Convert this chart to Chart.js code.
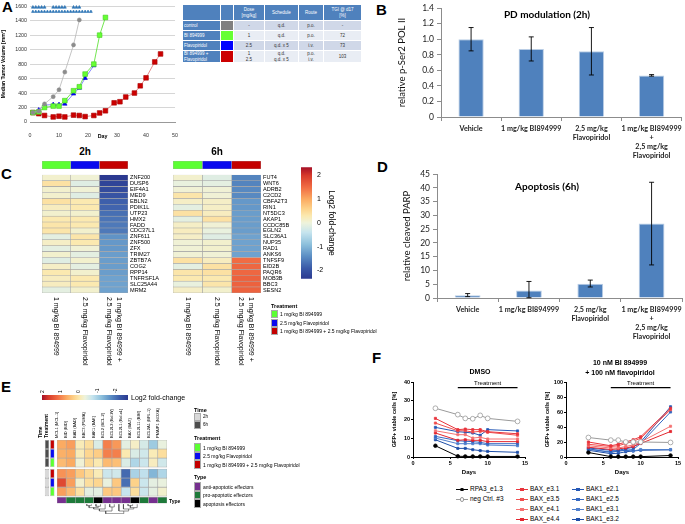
<!DOCTYPE html>
<html>
<head>
<meta charset="utf-8">
<script src="https://cdn.jsdelivr.net/npm/chart.js@4.4.1/dist/chart.umd.min.js"></script>
<style>
  body { margin: 0; background: #fff; }
  #page { position: relative; width: 685px; height: 524px; overflow: hidden; font-family: "Liberation Sans", Arial, sans-serif; color: #000; }
  #page canvas { position: absolute; }
  .t { position: absolute; white-space: pre; line-height: 1; }
  .c { transform: translateX(-50%); text-align: center; }
  .letter { font-weight: bold; font-size: 15px; }
  .sw { position: absolute; box-sizing: border-box; border: 0.5px solid #aaa; }
  #tgi { position: absolute; left: 182px; top: 4px; border-collapse: collapse; table-layout: fixed; width: 179px; font-size: 4.5px; }
  #tgi td { border: 1px solid #fff; padding: 0; text-align: center; color: #333; line-height: 1.15; white-space: pre; }
</style>
</head>
<body>
<div id="page"></div>
<script>
// ---------- A: tumour growth ----------
const dayCtrl = [1, 3, 5, 8, 10, 12, 15, 17];
const volCtrl = [130, 150, 250, 350, 445, 690, 1065, 1410];
const dayBI = [1, 3, 5, 8, 10, 12, 15, 17, 19, 22, 24, 26];
const volBI = [130, 140, 200, 220, 220, 295, 432, 487, 662, 800, 1200, 1444];
const dayFlavo = [1, 3, 5, 8, 10, 12, 15, 17, 19, 22];
const volFlavo = [130, 165, 235, 240, 240, 250, 390, 470, 605, 780];
const dayCombo = [1, 3, 5, 8, 10, 12, 15, 17, 19, 22, 24, 26, 29, 31, 33, 36, 38, 40, 43, 45];
const volCombo = [130, 115, 90, 70, 80, 70, 95, 90, 75, 90, 125, 155, 265, 280, 345, 400, 500, 610, 830, 940];
const doseDaysUpper = [1, 2, 3, 4, 5, 8, 9, 10, 11, 12, 15, 16, 17];
const doseDaysLower = [1, 2, 3, 4, 5, 6, 7, 8, 9, 10, 11, 12, 13, 14, 15, 16, 17, 18, 19, 20, 21];
const doseLevelUpper = 1585;
const doseLevelLower = 1525;

const groupNames = ['control', 'BI 894999', 'Flavopiridol', 'BI 894999 +\nFlavopiridol'];
const groupColors = ['#808080', '#66ff33', '#0000ff', '#cc0000'];
const groupDose = ['-', '1', '2.5', '1\n2.5'];
const groupSchedule = ['q.d.', 'q.d.', 'q.d. x 5', 'q.d.\nq.d. x 5'];
const groupRoute = ['p.o.', 'p.o.', 'i.v.', 'p.o.\ni.v.'];
const groupTGI = ['-', '72', '73', '103'];
const tableHead = ['', '', 'Dose\n[mg/kg]', 'Schedule', 'Route', 'TGI @ d17\n[%]'];

// ---------- B / D: bar panels ----------
const treatGroups = ['Vehicle', '1 mg/kg BI894999', ['2,5 mg/kg', 'Flavopiridol'], ['1 mg/kg BI894999', '+', '2,5 mg/kg', 'Flavopiridol']];
const polMean = [1.0, 0.875, 0.845, 0.535];
const polLow = [0.85, 0.72, 0.54, 0.525];
const polHigh = [1.15, 1.03, 1.15, 0.545];
const parpMean = [1.0, 2.7, 5.2, 27];
const parpLow = [0.5, 0.1, 4.0, 12];
const parpHigh = [1.6, 6.0, 6.5, 42];

// ---------- C: heatmaps ----------
const genes2h = ['ZNF200', 'DUSP6', 'EIF4A1', 'MED9', 'EBLN2', 'PDIK1L', 'UTP23', 'HMX2', 'FADD', 'CDC37L1', 'ZNF611', 'ZNF500', 'ZFX', 'TRIM27', 'ZBTB7A', 'COG2', 'RPP14', 'TNFRSF1A', 'SLC25A44', 'MRM2'];
const fc2hBI = [0.1, 0.4, 0.1, 0.1, 0.4, 0.2, 0.1, 0.3, 0.35, 0.35, -0.1, 0.15, -0.1, 0.1, -0.15, 0.15, 0.3, 0.2, 0.2, -0.1];
const fc2hFlavo = [0.05, -0.15, 0.05, -0.15, 0.3, 0.3, 0.1, 0.3, 0.3, 0.1, 0.35, 0.3, 0.05, -0.1, 0.1, -0.1, 0.1, 0.3, 0.3, 0.1];
const fc2hCombo = [-2.35, -2.2, -2.1, -2.0, -1.85, -1.8, -1.7, -1.65, -1.6, -1.6, -1.35, -1.3, -1.3, -1.25, -1.25, -1.25, -1.25, -1.2, -1.2, -1.2];
const genes6h = ['FUT4', 'WNT6', 'ADRB2', 'C2CD2', 'CBFA2T3', 'RIN1', 'NT5DC3', 'AKAP1', 'CCDC85B', 'EGLN2', 'SLC36A1', 'NUP35', 'RAD1', 'ANKS6', 'TNFSF9', 'EID2B', 'PAQR6', 'MOB3B', 'BBC3', 'SESN2'];
const fc6hBI = [0.1, -0.05, 0.05, 0.35, 0.15, -0.1, 0.4, -0.1, 0.15, 0.2, 0.15, 0.05, 0.05, 0.05, 0.4, -0.1, 0.35, 0.3, -0.05, 0.15];
const fc6hFlavo = [-0.15, -0.1, 0.05, 0.05, 0.15, 0.15, 0.2, 0.4, 0.05, -0.05, -0.15, 0.1, 0.1, 0.05, 0.2, 0.4, 0.4, 0.3, 0.35, 0.1];
const fc6hCombo = [-1.5, -1.5, -1.45, -1.45, -1.3, -1.3, -1.25, -1.25, -1.25, -1.25, -1.2, -1.2, -1.2, -1.2, 1.5, 1.55, 1.55, 1.6, 1.6, 1.6];
const treatKeys = ['bi', 'flavo', 'combo'];
const treatLabels = ['1 mg/kg BI 894999', '2.5 mg/kg Flavopiridol', '1 mg/kg BI 894999 + 2.5 mg/kg Flavopiridol'];
const colLabelsC = ['1 mg/kg BI 894999', '2.5 mg/kg Flavopiridol', ['1 mg/kg BI 894999 +', '2.5 mg/kg Flavopiridol']];
const fcMin = -2.35, fcMax = 2.35;

// ---------- E: apoptosis regulators ----------
const eGenes = ['MCL1 (MCL-1)', 'BID (BID)', 'BAD (BAD)', 'BBC3 (PUMA)', 'BAK1 (BAK)', 'BCL2 (BCL-2)', 'BCL2L2 (Bcl-W)', 'BCL2L1 (Bcl-xL)', 'BAX (BAX)', 'BCL2L11 (BIM)', 'BCL2A1 (BFL-1)', 'PMAIP1 (NOXA)'];
const e6hCombo = [1.0, 1.1, 0.25, 0.45, -0.2, 1.35, 1.15, -0.1, 0.15, -0.25, -0.75, -0.05];
const e6hFlavo = [0.95, 1.0, 0.25, 0.55, 0.65, 1.35, 1.35, 0.3, -0.2, -0.3, 0.25, 0.45];
const e6hBI = [0.85, 1.0, 0.05, 0.5, 0.3, 0.85, 0.8, -0.2, -0.6, -0.35, 0.2, -0.3];
const e2hCombo = [1.2, 1.1, 0.7, 0.5, 0.25, -0.35, -0.3, -1.75, -0.65, -0.45, -1.0, -0.6];
const e2hFlavo = [1.85, 1.1, 0.1, 0.45, 0.55, -0.05, 0.7, -1.7, 0.6, -0.35, -0.1, -0.05];
const e2hBI = [1.1, 0.85, 0.4, -0.1, -0.1, 0.7, 0.7, -0.4, 0.45, -0.35, -0.1, 0.1];
const eTime = ['6h', '6h', '6h', '2h', '2h', '2h'];
const eTreat = ['combo', 'flavo', 'bi', 'combo', 'flavo', 'bi'];
const eTypes = ['anti', 'pro', 'pro', 'pro', 'eff', 'anti', 'anti', 'anti', 'eff', 'pro', 'anti', 'pro'];
const typeLabels = ['anti-apoptotic effectors', 'pro-apoptotic effectors', 'apoptosis effectors'];
// hclust-style merges: negative = leaf, positive = earlier merge
const eMerge = [[-1, -2], [-3, -4], [1, 2], [3, -5], [-6, -7], [4, 5], [-10, -11], [7, -12], [-9, 8], [-8, 9], [6, 10]];
const eMergeHeight = [1, 1.5, 2.5, 3.5, 2, 5, 1, 2.5, 3.5, 5, 7];

// ---------- F: CRISPR competition ----------
const fDays = [3, 6, 7, 8, 9, 10, 14];
const fLabels = ['RPA3_e1.3', 'neg Ctrl. #3', 'BAX_e3.1', 'BAX_e3.5', 'BAX_e4.1', 'BAX_e4.4', 'BAK1_e2.1', 'BAK1_e2.5', 'BAK1_e3.1', 'BAK1_e3.2'];
const dmsoRPA3 = [6, 0.4, 0.3, 0.3, 0.3, 0.3, 0.3];
const dmsoNeg = [26, 22.6, 20.6, 20.4, 22.2, 20.6, 19];
const dmsoBAXe31 = [20.6, 14.6, 14.9, 14.6, 14.6, 13.5, 12.4];
const dmsoBAXe35 = [18.1, 14, 14, 13.3, 13.7, 13.2, 11.6];
const dmsoBAXe41 = [14, 11.9, 11.9, 10.1, 10.5, 9.6, 9.6];
const dmsoBAXe44 = [12.8, 8.9, 9.2, 8.9, 8.9, 8.2, 8.2];
const dmsoBAKe21 = [15.8, 13.5, 13.2, 12.8, 11.6, 14.6, 13.9];
const dmsoBAKe25 = [11, 8.7, 8.4, 8.2, 7.8, 7.1, 7.1];
const dmsoBAKe31 = [10.1, 7.1, 7.1, 7.1, 7.1, 6.4, 6.0];
const dmsoBAKe32 = [9.2, 4.6, 4.6, 3.9, 3.4, 3.0, 2.5];
const comboRPA3 = [6, 0.5, 0.5, 0.5, 0.5, 0.5, 2];
const comboNeg = [26, 22.5, 22.5, 20, 20, 20, 19.4];
const comboBAXe31 = [20, 15, 17, 20, 23, 27, 65];
const comboBAXe35 = [17, 14, 15, 18, 21, 25, 63];
const comboBAXe41 = [15, 12, 12, 14, 16, 20, 41];
const comboBAXe44 = [13, 10, 11, 12, 14, 18, 34];
const comboBAKe21 = [12, 9, 9, 11, 13, 20, 67];
const comboBAKe25 = [11, 6, 8, 9, 10, 18, 60];
const comboBAKe31 = [10, 7, 8, 9, 8, 10, 10];
const comboBAKe32 = [9, 4.5, 5, 7, 8, 9, 9.5];
const treatStart = 6, treatEnd = 14;
const treatLevelDmso = 37, treatLevelCombo = 92.5;

// ---------- styles ----------
const treatColor = { bi: '#5cff33', flavo: '#0a0aee', combo: '#c40000' };
const timeColor = { '2h': '#d9d9d9', '6h': '#4d4d4d' };
const typeColor = { anti: '#76308f', pro: '#1e7a3a', eff: '#000000' };
const fColors = ['#000000', '#9a9a9a', '#e8343c', '#f04e4e', '#f47272', '#e3262f', '#2457b5', '#3468c2', '#4f7fcd', '#1d4ea8'];
const fShapes = ['circle', 'circle', 'rect', 'rect', 'rect', 'rect', 'rect', 'rect', 'rect', 'rect'];
const fcStops = [[-2.35, '#2b3990'], [-1.9, '#3a5aa8'], [-1.4, '#5b8ec4'], [-0.9, '#8dc0dc'], [-0.4, '#c6e4ee'], [0, '#eef3dc'], [0.3, '#fbe9b0'], [0.6, '#fdd28a'], [1.0, '#fbab62'], [1.5, '#f16c43'], [2.0, '#d73a2b'], [2.35, '#a50f26']];

Chart.defaults.font.family = "'Liberation Sans', Arial, sans-serif";
Chart.defaults.color = '#000';

const page = document.getElementById('page');
const base = { responsive: false, animation: false, events: [] };
const noLegend = { legend: { display: false }, tooltip: { enabled: false } };
const fit = n => s => { if (s.isHorizontal()) s.height = n; else s.width = n; };
const intTicks = s => { s.ticks = s.ticks.filter(t => Number.isInteger(t.value)); };
const pts = (xs, ys) => xs.map((x, i) => ({ x, y: ys[i] }));

function place(left, top, w, h) {
  const c = document.createElement('canvas');
  c.width = w; c.height = h;
  c.style.left = left + 'px'; c.style.top = top + 'px';
  page.appendChild(c);
  return c;
}
function text(x, y, s, css, cls) {
  const d = document.createElement('div');
  d.className = 't ' + (cls || '');
  d.style.cssText = `left:${x}px;top:${y}px;` + (css || '');
  d.textContent = s;
  page.appendChild(d);
  return d;
}
function swatch(x, y, w, h, color) {
  const d = document.createElement('div');
  d.className = 'sw';
  d.style.cssText = `left:${x}px;top:${y}px;width:${w}px;height:${h}px;background:${color};`;
  page.appendChild(d);
}
function hex(c) { return [1, 3, 5].map(i => parseInt(c.slice(i, i + 2), 16)); }
function fcColor(v) {
  if (v <= fcStops[0][0]) return fcStops[0][1];
  for (let i = 1; i < fcStops.length; i++) {
    if (v <= fcStops[i][0]) {
      const [v0, c0] = fcStops[i - 1], [v1, c1] = fcStops[i];
      const f = (v - v0) / (v1 - v0), a = hex(c0), b = hex(c1);
      return 'rgb(' + a.map((x, k) => Math.round(x + (b[k] - x) * f)).join(',') + ')';
    }
  }
  return fcStops[fcStops.length - 1][1];
}
function scaleGradient(chart, id) {
  const s = chart.scales[id];
  if (!s) return '#ccc';
  const p0 = s.getPixelForValue(fcMin), p1 = s.getPixelForValue(fcMax);
  if (!isFinite(p0) || !isFinite(p1)) return '#ccc';
  const g = s.isHorizontal() ? chart.ctx.createLinearGradient(p0, 0, p1, 0) : chart.ctx.createLinearGradient(0, p0, 0, p1);
  fcStops.forEach(([v, c]) => g.addColorStop((v - fcMin) / (fcMax - fcMin), c));
  return g;
}

// plugins
function errorBars(low, high) {
  return {
    id: 'errorBars',
    afterDatasetsDraw(chart) {
      const { ctx } = chart, y = chart.scales.y;
      ctx.save();
      ctx.strokeStyle = '#000'; ctx.lineWidth = 0.9;
      chart.getDatasetMeta(0).data.forEach((bar, i) => {
        const a = y.getPixelForValue(low[i]), b = y.getPixelForValue(high[i]);
        ctx.beginPath();
        ctx.moveTo(bar.x, a); ctx.lineTo(bar.x, b);
        ctx.moveTo(bar.x - 2.5, a); ctx.lineTo(bar.x + 2.5, a);
        ctx.moveTo(bar.x - 2.5, b); ctx.lineTo(bar.x + 2.5, b);
        ctx.stroke();
      });
      ctx.restore();
    }
  };
}
function columnLabels(labels, font, lineH, gap) {
  return {
    id: 'columnLabels',
    afterDraw(chart) {
      const { ctx, chartArea } = chart, x = chart.scales.x;
      ctx.save();
      ctx.font = font; ctx.fillStyle = '#000';
      ctx.textAlign = 'left'; ctx.textBaseline = 'middle';
      labels.forEach((lab, i) => {
        const lines = [].concat(lab), cx = x.getPixelForValue(i + 0.5);
        lines.forEach((t, k) => {
          const off = (k - (lines.length - 1) / 2) * lineH;
          ctx.save();
          ctx.translate(cx - off, chartArea.bottom + gap);
          ctx.rotate(Math.PI / 2);
          ctx.fillText(t, 0, 0);
          ctx.restore();
        });
      });
      ctx.restore();
    }
  };
}
function treatmentLabel(level) {
  return {
    id: 'treatmentLabel',
    afterDraw(chart) {
      const { ctx } = chart, x = chart.scales.x, y = chart.scales.y;
      ctx.save();
      ctx.font = "6px 'Liberation Sans', Arial"; ctx.fillStyle = '#000';
      ctx.textAlign = 'center'; ctx.textBaseline = 'bottom';
      ctx.fillText('Treatment', x.getPixelForValue((treatStart + treatEnd) / 2), y.getPixelForValue(level) - 1.5);
      ctx.restore();
    }
  };
}

// ---------- panel letters ----------
text(2, -1, 'A', '', 'letter');
text(376, 2, 'B', '', 'letter');
text(1, 166, 'C', '', 'letter');
text(377, 159, 'D', '', 'letter');
text(1, 379, 'E', '', 'letter');
text(372, 350, 'F', '', 'letter');

// ---------- A ----------
const lineDs = (data, line, fill, edge, shape, r) => ({ data, borderColor: line, backgroundColor: fill, pointBorderColor: edge, pointBorderWidth: 0.6, pointStyle: shape, pointRadius: r, borderWidth: 0.8, clip: false });
new Chart(place(0, 0, 180, 145), {
  type: 'line',
  data: { datasets: [
    lineDs(pts(dayCtrl, volCtrl), '#b5b5b5', '#8c8c8c', '#8c8c8c', 'circle', 2),
    lineDs(pts(dayBI, volBI), '#4fe024', '#66ff33', '#44cc22', 'rect', 3.3),
    lineDs(pts(dayFlavo, volFlavo), '#6a6aff', '#0000ff', '#0000cc', 'triangle', 2.6),
    lineDs(pts(dayCombo, volCombo), '#e07070', '#cc0000', '#aa0000', 'rect', 3.3),
    { ...lineDs(doseDaysUpper.map(x => ({ x, y: doseLevelUpper })), '#2e75b6', '#2e75b6', '#2e75b6', 'triangle', 1.8), showLine: false },
    { ...lineDs(doseDaysLower.map(x => ({ x, y: doseLevelLower })), '#2e75b6', '#2e75b6', '#2e75b6', 'triangle', 1.6), showLine: false }
  ] },
  options: { ...base, layout: { padding: { top: 6, right: 4 } }, plugins: noLegend,
    scales: {
      x: { type: 'linear', min: 0, max: 50, ticks: { stepSize: 10, font: { size: 5.3 }, padding: 2, color: '#333' },
           grid: { display: false }, border: { color: '#999' },
           title: { display: true, text: 'Day', font: { size: 5.3, weight: 'bold' }, padding: { top: 0, bottom: 5 } }, afterFit: fit(23) },
      y: { min: 0, max: 1600, ticks: { stepSize: 200, font: { size: 5.3 }, padding: 3, color: '#333', callback: v => String(v) },
           grid: { color: '#d6d6d6', drawTicks: false }, border: { display: false },
           title: { display: true, text: 'Median Tumor Volume [mm³]', font: { size: 5, weight: 'bold' }, padding: { top: 1, bottom: 0 } }, afterFit: fit(30) }
    } }
});

// table
(function () {
  const tbl = document.createElement('table');
  tbl.id = 'tgi';
  const widths = [38, 13, 31, 34, 25, 38];
  const cg = document.createElement('colgroup');
  widths.forEach(w => { const c = document.createElement('col'); c.style.width = w + 'px'; cg.appendChild(c); });
  tbl.appendChild(cg);
  const addRow = (cells, h, bg, style) => {
    const tr = document.createElement('tr');
    tr.style.height = h + 'px';
    cells.forEach((s, i) => {
      const td = document.createElement('td');
      td.textContent = s;
      td.style.background = bg[i];
      if (style[i]) td.style.cssText += style[i];
      tr.appendChild(td);
    });
    tbl.appendChild(tr);
  };
  const head = '#4f81bd';
  addRow(tableHead, 16, tableHead.map(() => head), tableHead.map(() => 'color:#fff;'));
  const heights = [10, 10, 10, 12];
  groupNames.forEach((g, i) => {
    const body = i % 2 ? '#e9edf4' : '#d0d8e8';
    addRow([g, '', groupDose[i], groupSchedule[i], groupRoute[i], groupTGI[i]], heights[i],
      [head, groupColors[i], body, body, body, body],
      ['color:#fff;text-align:left;padding-left:1px;', '', '', '', '', '']);
  });
  page.appendChild(tbl);
})();

// ---------- B & D ----------
function barPanel(canvas, means, low, high, yMax, yStep, yTitle, g) {
  return new Chart(canvas, {
    type: 'bar',
    data: { labels: treatGroups, datasets: [{ data: means, backgroundColor: '#4f81bd', borderColor: '#b9cde5', borderWidth: 1, barPercentage: 0.42, categoryPercentage: 1 }] },
    options: { ...base, layout: { padding: g.pad }, plugins: noLegend,
      scales: {
        x: { grid: { drawOnChartArea: false, tickLength: 4, color: '#8c8c8c' }, border: { color: '#8c8c8c' },
             ticks: { font: { family: 'Lato', weight: 'bold', size: 7.2, lineHeight: 1.25 }, color: '#222', padding: 3, maxRotation: 0, autoSkip: false },
             afterFit: fit(g.xh) },
        y: { min: 0, max: yMax, ticks: { stepSize: yStep, font: { family: 'Lato', size: 8.5 }, color: '#222', padding: 3 },
             grid: { drawOnChartArea: false, tickLength: 4, color: '#8c8c8c' }, border: { color: '#8c8c8c' },
             title: { display: true, text: yTitle, font: { family: 'Lato', size: 9.5 }, color: '#111', padding: { top: g.tp, bottom: 0 } },
             afterFit: fit(g.yw) }
      } },
    plugins: [errorBars(low, high)]
  });
}
barPanel(place(372, 0, 313, 162), polMean, polLow, polHigh, 1.4, 0.2, 'relative p-Ser2 POL II', { pad: { top: 5, right: 2 }, yw: 69, xh: 45, tp: 24 });
barPanel(place(372, 163, 313, 185), parpMean, parpLow, parpHigh, 45, 5, 'relative cleaved PARP', { pad: { top: 11, right: 2 }, yw: 65, xh: 50, tp: 29 });
text(547, 8, 'PD modulation (2h)', "font:bold 10px Lato;", 'c');
text(547, 180, 'Apoptosis (6h)', "font:bold 10px Lato;", 'c');

// ---------- C ----------
function cellChart(canvas, rowLabels, columns, colorOf, o) {
  const datasets = columns.map((vals, c) => ({
    data: rowLabels.map(() => [c, c + 1]),
    backgroundColor: vals.map(colorOf),
    borderColor: '#a8a8a8', borderWidth: 0.6, borderSkipped: false,
    grouped: false, barPercentage: 1, categoryPercentage: 1
  }));
  return new Chart(canvas, {
    type: 'bar',
    data: { labels: rowLabels, datasets },
    options: { ...base, indexAxis: 'y', layout: { padding: o.pad || 0 }, plugins: noLegend,
      scales: {
        x: { type: 'linear', min: 0, max: columns.length, display: false },
        y: { position: 'right', display: !!o.yw, grid: { display: false, drawTicks: false }, border: { display: false },
             ticks: { font: { size: 5.6, lineHeight: 1 }, padding: 2, autoSkip: false, color: '#000' }, afterFit: fit(o.yw || 0) }
      } },
    plugins: o.colLabels ? [columnLabels(o.colLabels, "7px 'Liberation Sans', Arial", 10, 4)] : []
  });
}
cellChart(place(42, 161, 86, 8), [''], treatKeys.map(k => [k]), k => treatColor[k], {});
cellChart(place(173, 161, 88, 8), [''], treatKeys.map(k => [k]), k => treatColor[k], {});
cellChart(place(30, 170, 140, 212), genes2h, [fc2hBI, fc2hFlavo, fc2hCombo], fcColor,
  { pad: { left: 12, top: 2, right: 2, bottom: 89 }, yw: 40, colLabels: colLabelsC });
cellChart(place(161, 170, 140, 212), genes6h, [fc6hBI, fc6hFlavo, fc6hCombo], fcColor,
  { pad: { left: 12, top: 2, right: 2, bottom: 89 }, yw: 38, colLabels: colLabelsC });
text(85, 147, '2h', 'font-weight:bold;font-size:10px;', 'c');
text(217, 147, '6h', 'font-weight:bold;font-size:10px;', 'c');

// colour key (vertical)
new Chart(place(295, 158, 42, 130), {
  type: 'bar',
  data: { labels: [''], datasets: [{ data: [[fcMin, fcMax]], backgroundColor: c => scaleGradient(c.chart, 'y'), borderWidth: 0, barPercentage: 1, categoryPercentage: 1 }] },
  options: { ...base, layout: { padding: { left: 6, top: 3, bottom: 4, right: 0 } }, plugins: noLegend,
    scales: {
      x: { display: false },
      y: { position: 'right', min: fcMin, max: fcMax, grid: { display: false, drawTicks: false }, border: { display: false },
           ticks: { stepSize: 1, font: { size: 7 }, padding: 5, color: '#000' }, afterBuildTicks: intTicks,
           title: { display: true, text: 'Log2 fold-change', font: { size: 8.5 }, padding: { top: 1, bottom: 0 } }, afterFit: fit(25) }
    } }
});

// treatment legend (C)
text(271, 304, 'Treatment', 'font-weight:bold;font-size:5.5px;');
treatKeys.forEach((k, i) => {
  swatch(271, 310 + i * 8.5, 7, 8, treatColor[k]);
  text(280, 312 + i * 8.5, treatLabels[i], 'font-size:5px;');
});

// ---------- E ----------
const rowTop = r => r + (r >= 3 ? 0.22 : 0);
const typeTop = 6.33, typeBottom = 7.0;
const dendroBase = 7.12, dendroScale = 0.15;
function dendroPoints() {
  const pos = [], ht = [], out = [];
  const node = k => (k < 0 ? { x: -k - 1, h: 0 } : { x: pos[k - 1], h: ht[k - 1] });
  const yv = v => dendroBase + v * dendroScale;
  eMerge.forEach(([a, b], i) => {
    const A = node(a), B = node(b), h = eMergeHeight[i];
    pos.push((A.x + B.x) / 2); ht.push(h);
    out.push({ x: A.x, y: yv(A.h) }, { x: A.x, y: yv(h) }, { x: B.x, y: yv(h) }, { x: B.x, y: yv(B.h) }, { x: B.x, y: null });
  });
  return out;
}
const cellStyle = { borderColor: '#a8a8a8', borderWidth: 0.6, borderSkipped: false, grouped: false, barPercentage: 1, categoryPercentage: 1 };
const eRows = [e6hCombo, e6hFlavo, e6hBI, e2hCombo, e2hFlavo, e2hBI];
const eSets = eRows.map((vals, r) => ({ ...cellStyle, data: eGenes.map(() => [rowTop(r), rowTop(r) + 1]), backgroundColor: vals.map(fcColor) }));
eSets.push({ ...cellStyle, data: eGenes.map(() => [typeTop, typeBottom]), backgroundColor: eTypes.map(t => typeColor[t]) });
eSets.push({ type: 'line', xAxisID: 'xd', data: dendroPoints(), borderColor: '#444', borderWidth: 0.6, pointRadius: 0, spanGaps: false, fill: false });
new Chart(place(50, 398, 124, 120), {
  type: 'bar',
  data: { labels: eGenes, datasets: eSets },
  options: { ...base, layout: { padding: { left: 7, right: 7, bottom: 4 } }, plugins: noLegend,
    scales: {
      x: { position: 'top', grid: { display: false, drawTicks: false }, border: { display: false },
           ticks: { font: { size: 4 }, minRotation: 90, maxRotation: 90, padding: 2, autoSkip: false, color: '#000' }, afterFit: fit(42) },
      xd: { type: 'linear', min: -0.5, max: eGenes.length - 0.5, display: false },
      y: { min: 0, max: 8.2, reverse: true, display: false }
    } }
});
// annotation columns
const annoSets = eTime.map((t, r) => ({ ...cellStyle, categoryPercentage: 0.82, data: [[rowTop(r), rowTop(r) + 1], [rowTop(r), rowTop(r) + 1]], backgroundColor: [timeColor[t], treatColor[eTreat[r]]] }));
new Chart(place(38, 398, 20, 120), {
  type: 'bar',
  data: { labels: ['Time', 'Treatment'], datasets: annoSets },
  options: { ...base, layout: { padding: { left: 4, right: 3, bottom: 4 } }, plugins: noLegend,
    scales: {
      x: { position: 'top', grid: { display: false, drawTicks: false }, border: { display: false },
           ticks: { font: { size: 5, weight: 'bold' }, minRotation: 90, maxRotation: 90, padding: 2, autoSkip: false, color: '#000' }, afterFit: fit(42) },
      y: { min: 0, max: 8.2, reverse: true, display: false }
    } }
});
// horizontal colour key
new Chart(place(40, 380, 92, 22), {
  type: 'bar',
  data: { labels: [''], datasets: [{ data: [[fcMin, fcMax]], backgroundColor: c => scaleGradient(c.chart, 'x'), borderWidth: 0, barPercentage: 1, categoryPercentage: 1 }] },
  options: { ...base, indexAxis: 'y', layout: { padding: { left: 2, right: 4, bottom: 2 } }, plugins: noLegend,
    scales: {
      y: { display: false },
      x: { position: 'top', reverse: true, min: fcMin, max: fcMax, grid: { display: false, drawTicks: false }, border: { display: false },
           ticks: { stepSize: 1, minRotation: 90, maxRotation: 90, font: { size: 5 }, padding: 2, color: '#000' }, afterBuildTicks: intTicks, afterFit: fit(15) }
    } }
});
text(131, 394, 'Log2 fold-change', 'font-size:7px;');
text(169, 499, 'Type', 'font-weight:bold;font-size:5px;');
// E legends
text(194, 408, 'Time', 'font-weight:bold;font-size:5.5px;');
['2h', '6h'].forEach((t, i) => { swatch(194, 413 + i * 8, 7, 8, timeColor[t]); text(203, 415 + i * 8, t, 'font-size:4.5px;'); });
text(194, 436, 'Treatment', 'font-weight:bold;font-size:5.5px;');
treatKeys.forEach((k, i) => { swatch(194, 443 + i * 8.5, 7, 8.5, treatColor[k]); text(203, 445.5 + i * 8.5, treatLabels[i], 'font-size:5px;'); });
text(194, 475, 'Type', 'font-weight:bold;font-size:5.5px;');
['anti', 'pro', 'eff'].forEach((k, i) => { swatch(194, 482 + i * 8.5, 7, 8.5, typeColor[k]); text(203, 484.5 + i * 8.5, typeLabels[i], 'font-size:5px;'); });

// ---------- F ----------
function growthChart(canvas, series, yMax, yStep, level) {
  const datasets = series.map((vals, i) => ({
    data: pts(fDays, vals), borderColor: fColors[i], backgroundColor: i === 1 ? '#fff' : fColors[i], pointBorderColor: fColors[i],
    pointStyle: fShapes[i], pointRadius: i === 1 ? 2.4 : (i === 0 ? 1.8 : 1.5), pointBorderWidth: 0.8, borderWidth: 1, clip: false
  }));
  datasets.push({ data: [{ x: treatStart, y: level }, { x: treatEnd, y: level }], borderColor: '#000', borderWidth: 1.3, pointRadius: 0, clip: false });
  return new Chart(canvas, {
    type: 'line',
    data: { datasets },
    options: { ...base, layout: { padding: { top: 22, right: 5 } }, plugins: noLegend,
      scales: {
        x: { type: 'linear', min: 0, max: 15, ticks: { stepSize: 5, font: { size: 5.5, weight: 'bold' }, padding: 1 },
             grid: { drawOnChartArea: false, tickLength: 2, color: '#000' }, border: { color: '#000', width: 1 },
             title: { display: true, text: 'Days', font: { size: 6, weight: 'bold' }, padding: { top: 0, bottom: 2.5 } }, afterFit: fit(21) },
        y: { min: 0, max: yMax, ticks: { stepSize: yStep, font: { size: 5.5, weight: 'bold' }, padding: 1 },
             grid: { drawOnChartArea: false, tickLength: 2, color: '#000' }, border: { color: '#000', width: 1 },
             title: { display: true, text: 'GFP+ viable cells [%]', font: { size: 5.5, weight: 'bold' }, padding: { top: 6.5, bottom: 0 } }, afterFit: fit(28) }
      } },
    plugins: [treatmentLabel(level)]
  });
}
growthChart(place(385, 360, 145, 118), [dmsoRPA3, dmsoNeg, dmsoBAXe31, dmsoBAXe35, dmsoBAXe41, dmsoBAXe44, dmsoBAKe21, dmsoBAKe25, dmsoBAKe31, dmsoBAKe32], 40, 10, treatLevelDmso);
growthChart(place(538, 360, 145, 118), [comboRPA3, comboNeg, comboBAXe31, comboBAXe35, comboBAXe41, comboBAXe44, comboBAKe21, comboBAKe25, comboBAKe31, comboBAKe32], 100, 20, treatLevelCombo);
text(480, 368, 'DMSO', 'font-weight:bold;font-size:7px;', 'c');
text(620, 358, '10 nM BI 894999\n+ 100 nM flavopiridol', 'font-weight:bold;font-size:7px;line-height:9.5px;', 'c');

// F legend
const legCol = [462, 522, 578];
fLabels.forEach((lab, i) => {
  const col = i < 2 ? 0 : (i < 6 ? 1 : 2);
  const row = i < 2 ? i : (i - 2) % 4;
  const x = legCol[col], y = 489 + row * 10;
  const ln = document.createElement('div');
  ln.style.cssText = `position:absolute;left:${x - 6}px;top:${y}px;width:12px;height:0;border-top:1px solid ${fColors[i]};`;
  page.appendChild(ln);
  const mk = document.createElement('div');
  const r = i === 1 ? 2.2 : 1.6;
  mk.style.cssText = `position:absolute;left:${x - r}px;top:${y + 0.5 - r}px;width:${2 * r}px;height:${2 * r}px;box-sizing:border-box;` +
    (i === 1 ? `border:0.8px solid ${fColors[i]};background:#fff;border-radius:50%;` : `background:${fColors[i]};` + (i === 0 ? 'border-radius:50%;' : ''));
  page.appendChild(mk);
  text(x + 8, y - 3, lab, 'font-size:6.5px;');
});
</script>
</body>
</html>
